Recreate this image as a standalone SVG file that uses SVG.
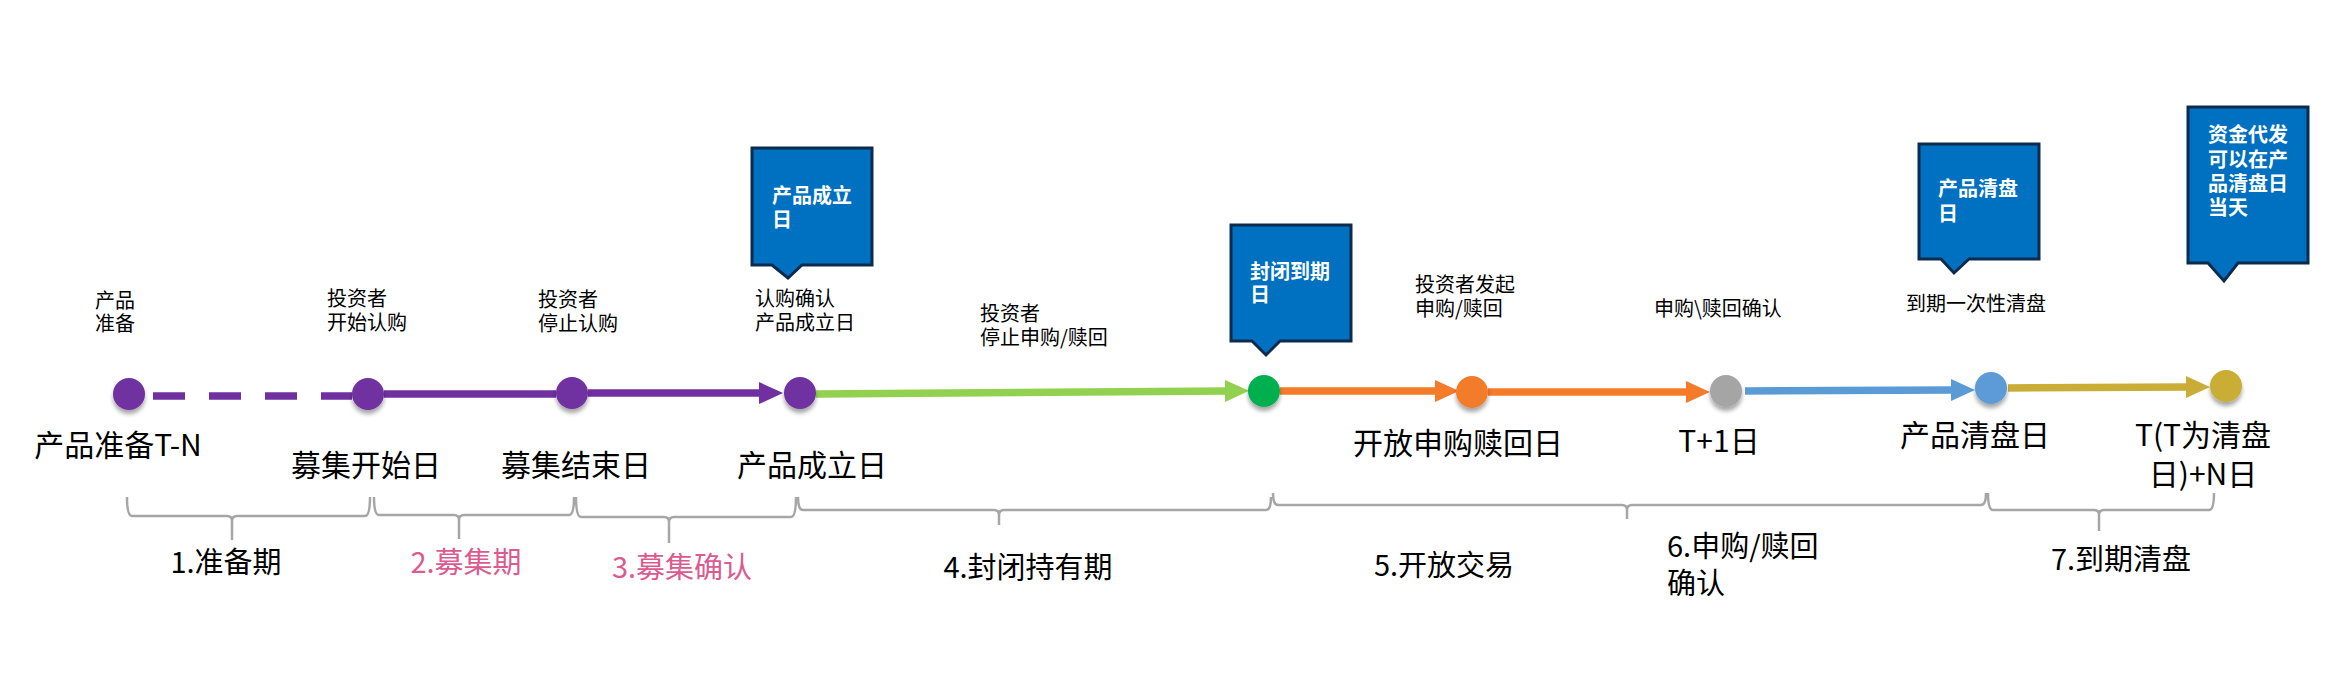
<svg xmlns="http://www.w3.org/2000/svg" width="2352" height="698" viewBox="0 0 2352 698">
<style>
text{font-family:"Noto Sans CJK SC","Noto Sans",sans-serif;fill:#000}
.s{font-size:20px}
.b{font-size:30px}
.p{font-size:29px}
.pk{fill:#DB5A91}
.c{font-size:20px;font-weight:bold;fill:#fff}
.call{fill:#0070C0;stroke:#0D2B4E;stroke-width:3}
.br{fill:none;stroke:#A6A6A6;stroke-width:2.5}
.ln{fill:none;stroke-width:7.5}
</style>
<defs>
<filter id="sh" x="-50%" y="-50%" width="200%" height="220%">
<feDropShadow dx="0" dy="4" stdDeviation="2.2" flood-color="#000" flood-opacity="0.35"/>
</filter>
<marker id="aP" markerUnits="userSpaceOnUse" markerWidth="24" markerHeight="22" viewBox="0 0 24 22" refX="2" refY="11" orient="auto"><path d="M0,0 L24,11 L0,22 Z" fill="#7030A0"/></marker>
<marker id="aG" markerUnits="userSpaceOnUse" markerWidth="24" markerHeight="22" viewBox="0 0 24 22" refX="2" refY="11" orient="auto"><path d="M0,0 L24,11 L0,22 Z" fill="#92D050"/></marker>
<marker id="aO" markerUnits="userSpaceOnUse" markerWidth="24" markerHeight="22" viewBox="0 0 24 22" refX="2" refY="11" orient="auto"><path d="M0,0 L24,11 L0,22 Z" fill="#F37B2A"/></marker>
<marker id="aB" markerUnits="userSpaceOnUse" markerWidth="24" markerHeight="22" viewBox="0 0 24 22" refX="2" refY="11" orient="auto"><path d="M0,0 L24,11 L0,22 Z" fill="#5B9BD5"/></marker>
<marker id="aY" markerUnits="userSpaceOnUse" markerWidth="24" markerHeight="22" viewBox="0 0 24 22" refX="2" refY="11" orient="auto"><path d="M0,0 L24,11 L0,22 Z" fill="#C9AD36"/></marker>
</defs>

<g id="connectors">
<path class="ln" d="M153,396 H352" stroke="#7030A0" stroke-dasharray="32 24"/>
<path class="ln" d="M384,394 H556" stroke="#7030A0"/>
<path class="ln" d="M588,393 H761" stroke="#7030A0" marker-end="url(#aP)"/>
<path class="ln" d="M816,394 L1227,391" stroke="#92D050" marker-end="url(#aG)"/>
<path class="ln" d="M1280,391 H1437" stroke="#F37B2A" marker-end="url(#aO)"/>
<path class="ln" d="M1488,392 H1688" stroke="#F37B2A" marker-end="url(#aO)"/>
<path class="ln" d="M1745,391 L1953,390" stroke="#5B9BD5" marker-end="url(#aB)"/>
<path class="ln" d="M2008,388 L2188,387" stroke="#C9AD36" marker-end="url(#aY)"/>
</g>

<g id="n1"><circle cx="129" cy="394" r="16" fill="#7030A0" filter="url(#sh)"/>
<text class="s" x="95" y="308">产品<tspan x="95" y="331">准备</tspan></text>
<text class="b" x="118" y="456" text-anchor="middle">产品准备T-N</text></g>

<g id="n2"><circle cx="368" cy="394" r="16" fill="#7030A0" filter="url(#sh)"/>
<text class="s" x="327" y="306">投资者<tspan x="327" y="330">开始认购</tspan></text>
<text class="b" x="366" y="476" text-anchor="middle">募集开始日</text></g>

<g id="n3"><circle cx="572" cy="393" r="16" fill="#7030A0" filter="url(#sh)"/>
<text class="s" x="538" y="307">投资者<tspan x="538" y="331">停止认购</tspan></text>
<text class="b" x="576" y="476" text-anchor="middle">募集结束日</text></g>

<g id="n4"><circle cx="800" cy="393" r="16" fill="#7030A0" filter="url(#sh)"/>
<text class="s" x="755" y="306">认购确认<tspan x="755" y="330">产品成立日</tspan></text>
<text class="b" x="812" y="476" text-anchor="middle">产品成立日</text></g>

<g id="callout1"><path class="call" d="M752,148 H872 V265 H802 L788,278 L772,265 H752 Z"/>
<text class="c" x="772" y="203">产品成立<tspan x="772" y="227">日</tspan></text></g>

<g id="note-closed"><text class="s" x="980" y="321">投资者<tspan x="980" y="345">停止申购/赎回</tspan></text></g>

<g id="n5"><circle cx="1264" cy="391" r="16" fill="#00B050" filter="url(#sh)"/></g>

<g id="callout2"><path class="call" d="M1231,225 H1351 V341 H1280 L1266,355 L1252,341 H1231 Z"/>
<text class="c" x="1250" y="279">封闭到期<tspan x="1250" y="302">日</tspan></text></g>

<g id="n6"><circle cx="1472" cy="392" r="16" fill="#F37B2A" filter="url(#sh)"/>
<text class="s" x="1415" y="292">投资者发起<tspan x="1415" y="316">申购/赎回</tspan></text>
<text class="b" x="1458" y="454" text-anchor="middle">开放申购赎回日</text></g>

<g id="n7"><circle cx="1726" cy="391" r="16" fill="#A5A5A5" filter="url(#sh)"/>
<text class="s" x="1654" y="316">申购\赎回确认</text>
<text class="b" x="1719" y="452" text-anchor="middle">T+1日</text></g>

<g id="n8"><circle cx="1991" cy="388" r="16" fill="#5B9BD5" filter="url(#sh)"/>
<text class="s" x="1906" y="311">到期一次性清盘</text>
<text class="b" x="1975" y="446" text-anchor="middle">产品清盘日</text></g>

<g id="callout3"><path class="call" d="M1919,144 H2039 V259 H1969 L1954,273 L1941,259 H1919 Z"/>
<text class="c" x="1938" y="196">产品清盘<tspan x="1938" y="221">日</tspan></text></g>

<g id="n9"><circle cx="2226" cy="386" r="16" fill="#C9AD36" filter="url(#sh)"/>
<text class="b" x="2203" y="446" text-anchor="middle">T(T为清盘<tspan x="2203" y="485">日)+N日</tspan></text></g>

<g id="callout4"><path class="call" d="M2188,107 H2308 V263 H2238 L2224,281 L2208,263 H2188 Z"/>
<text class="c" x="2208" y="142">资金代发<tspan x="2208" y="167">可以在产</tspan><tspan x="2208" y="191">品清盘日</tspan><tspan x="2208" y="215">当天</tspan></text></g>

<g id="phase1"><path class="br" d="M127,497 Q127,516 132,516 H227 Q232,516 232,521 V540 M232,521 Q232,516 237,516 H365 Q370,516 370,497"/>
<text class="p" x="226" y="573" text-anchor="middle">1.准备期</text></g>
<g id="phase2"><path class="br" d="M374,497 Q374,515 379,515 H454 Q459,515 459,520 V539 M459,520 Q459,515 464,515 H569 Q574,515 574,497"/>
<text class="p pk" x="466" y="573" text-anchor="middle">2.募集期</text></g>
<g id="phase3"><path class="br" d="M576,497 Q576,517 581,517 H664 Q669,517 669,522 V543 M669,522 Q669,517 674,517 H791 Q796,517 796,497"/>
<text class="p pk" x="682" y="578" text-anchor="middle">3.募集确认</text></g>
<g id="phase4"><path class="br" d="M798,497 Q798,510 803,510 H994 Q999,510 999,515 V525 M999,515 Q999,510 1004,510 H1266 Q1271,510 1271,497"/>
<text class="p" x="1028" y="578" text-anchor="middle">4.封闭持有期</text></g>
<g id="phase5"><path class="br" d="M1273,493 Q1273,505 1278,505 H1622 Q1627,505 1627,510 V519 M1627,510 Q1627,505 1632,505 H1981 Q1986,505 1986,493"/>
<text class="p" x="1444" y="576" text-anchor="middle">5.开放交易</text></g>
<g id="phase6"><text class="p" x="1667" y="557">6.申购/赎回<tspan x="1667" y="594">确认</tspan></text></g>
<g id="phase7"><path class="br" d="M1988,493 Q1988,510 1993,510 H2094 Q2099,510 2099,515 V531 M2099,515 Q2099,510 2104,510 H2209 Q2214,510 2214,493"/>
<text class="p" x="2121" y="570" text-anchor="middle">7.到期清盘</text></g>
</svg>
